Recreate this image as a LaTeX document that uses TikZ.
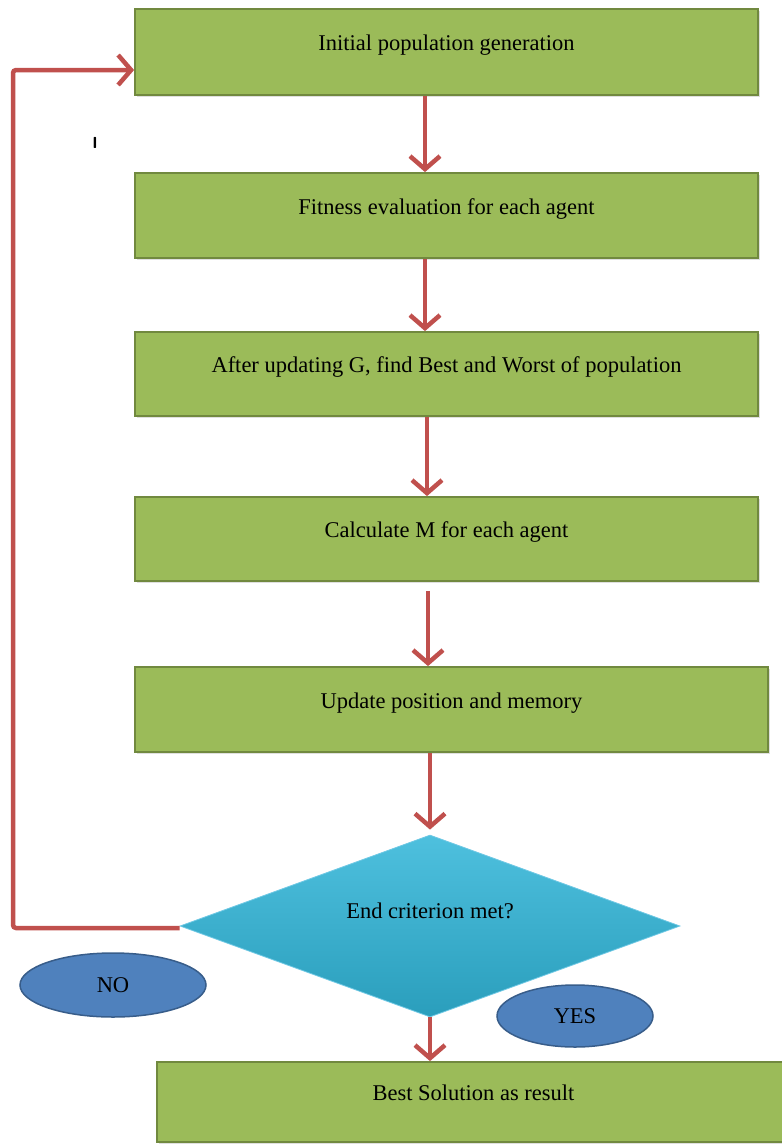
\documentclass[tikz,border=0pt]{standalone}
\usepackage{fontspec}
\setmainfont{Liberation Serif}
\usetikzlibrary{shapes.geometric,arrows.meta,shadows}

\definecolor{boxgreen}{RGB}{155,187,89}
\definecolor{boxline}{RGB}{113,137,63}
\definecolor{flowred}{RGB}{192,80,77}
\definecolor{ovalblue}{RGB}{79,129,189}
\definecolor{ovalline}{RGB}{56,93,138}
\definecolor{cyantop}{RGB}{78,192,222}
\definecolor{cyanbot}{RGB}{42,158,188}
\definecolor{cyanline}{RGB}{110,200,228}

\begin{document}
\begin{tikzpicture}[
    x=1pt, y=-1pt,
    font=\fontsize{22.5}{24}\selectfont,
    % Define the style for the process boxes (olive green rectangles)
    stepbox/.style={rectangle, fill=boxgreen, draw=boxline, line width=1.8pt,
        minimum width=623pt, minimum height=86pt, inner sep=0pt,
        text height=15pt, text depth=18pt,
        drop shadow={shadow xshift=1.5pt, shadow yshift=-1.5pt, opacity=0.25}},
    % Define the style for the test (cyan diamond)
    decision/.style={diamond, shade, top color=cyantop, bottom color=cyanbot,
        draw=cyanline, line width=0.8pt, aspect=2.75, inner sep=0pt,
        minimum width=500pt, minimum height=182pt,
        text height=15pt, text depth=30pt},
    % Define the style for the answer labels (blue ovals)
    answer/.style={ellipse, fill=ovalblue, draw=ovalline, line width=1.5pt, inner sep=0pt},
    % Define the style for the connectors (thick red lines, open tips)
    flow/.style={draw=flowred, line width=4.5pt, rounded corners=3pt,
        -{Straight Barb[length=13pt, width=30pt, line width=4.5pt]}}
]
    \useasboundingbox (0,0) rectangle (782,1144);

    % --- Process boxes ---
    \node[stepbox] (init) at (446.5,52) {Initial population generation};
    \node[stepbox, minimum height=85pt] (fitness) at (446.5,215.5) {Fitness evaluation for each agent};
    \node[stepbox, minimum height=84pt] (extremes) at (446.5,374) {After updating G, find Best and Worst of population};
    \node[stepbox, minimum height=84pt] (mass) at (446.5,539) {Calculate M for each agent};
    \node[stepbox, minimum width=633pt, minimum height=85pt] (update) at (451.5,709.5) {Update position and memory};

    % --- Test ---
    \node[decision] (endtest) at (430,926) {End criterion met?};

    % --- Result (runs off the page on the right) ---
    \node[stepbox, minimum width=633pt, minimum height=80pt] (result) at (473.5,1102) {Best Solution as result};

    % --- Answers ---
    \node[answer, minimum width=186pt, minimum height=64pt] (no) at (113,985) {NO};
    \node[answer, minimum width=156pt, minimum height=62pt] (yes) at (575,1016) {YES};

    % Stray mark
    \node[font=\sffamily\bfseries\fontsize{16}{16}\selectfont] (cursor) at (95,143) {I};

    % --- Connectors ---
    \coordinate (spine) at (427,0);
    \coordinate (loop) at (13,0);

    \draw[flow] (init.south -| 425,0) -- (fitness.north -| 425,0);
    \draw[flow] (fitness.south -| 425,0) -- (extremes.north -| 425,0);
    \draw[flow] (extremes.south -| spine) -- (mass.north -| spine);
    \draw[flow, shorten <=9pt] (mass.south -| 428,0) -- (update.north -| 428,0);
    \draw[flow, shorten >=5pt] (update.south -| endtest) -- (endtest.north);
    \draw[flow] (endtest.south) -- (result.north -| endtest);

    % Back to the start
    \draw[flow] ([yshift=-2pt]endtest.west) -- ([yshift=-2pt]endtest.west -| loop)
        |- ([yshift=-18pt]init.west);

\end{tikzpicture}
\end{document}
